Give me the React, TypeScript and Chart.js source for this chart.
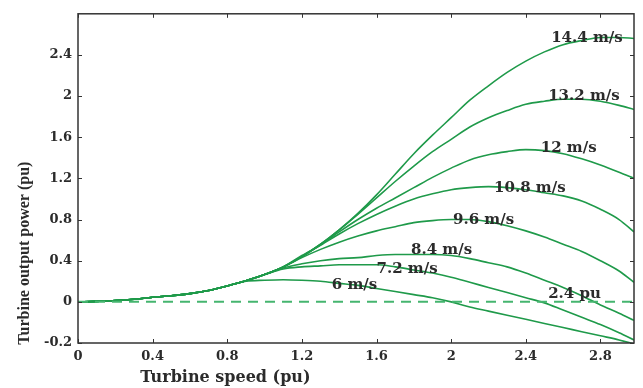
import React, { useEffect, useRef } from "react";
import { Chart, registerables } from "chart.js";
Chart.register(...registerables);

// Turbine speed (pu)
const speeds = [0, 0.1, 0.2, 0.3, 0.4, 0.5, 0.6, 0.7, 0.8, 0.9, 1.0, 1.1, 1.2, 1.3, 1.4, 1.5, 1.6, 1.7, 1.8, 1.9, 2.0, 2.1, 2.2, 2.3, 2.4, 2.5, 2.6, 2.7, 2.8, 2.9, 2.98];

// Turbine output power (pu) per wind speed
const p6 = [0, 0.005, 0.012, 0.025, 0.045, 0.06, 0.08, 0.11, 0.155, 0.2, 0.21, 0.215, 0.21, 0.2, 0.18, 0.16, 0.13, 0.1, 0.07, 0.04, 0.0, -0.05, -0.09, -0.13, -0.17, -0.21, -0.25, -0.29, -0.33, -0.37, -0.41];
const p72 = [0, 0.005, 0.012, 0.025, 0.045, 0.06, 0.08, 0.11, 0.155, 0.205, 0.265, 0.32, 0.34, 0.35, 0.36, 0.36, 0.36, 0.34, 0.31, 0.28, 0.24, 0.19, 0.14, 0.09, 0.04, -0.01, -0.08, -0.15, -0.22, -0.3, -0.37];
const p84 = [0, 0.005, 0.012, 0.025, 0.045, 0.06, 0.08, 0.11, 0.155, 0.205, 0.265, 0.33, 0.37, 0.4, 0.42, 0.43, 0.45, 0.46, 0.46, 0.46, 0.45, 0.42, 0.38, 0.34, 0.28, 0.21, 0.14, 0.06, -0.03, -0.11, -0.18];
const p96 = [0, 0.005, 0.012, 0.025, 0.045, 0.06, 0.08, 0.11, 0.155, 0.205, 0.265, 0.34, 0.43, 0.51, 0.58, 0.64, 0.69, 0.73, 0.77, 0.79, 0.8, 0.8, 0.78, 0.74, 0.69, 0.63, 0.56, 0.49, 0.4, 0.3, 0.19];
const p108 = [0, 0.005, 0.012, 0.025, 0.045, 0.06, 0.08, 0.11, 0.155, 0.205, 0.265, 0.34, 0.45, 0.55, 0.66, 0.76, 0.85, 0.93, 1.0, 1.05, 1.09, 1.11, 1.12, 1.11, 1.09, 1.06, 1.03, 0.98, 0.9, 0.8, 0.68];
const p12 = [0, 0.005, 0.012, 0.025, 0.045, 0.06, 0.08, 0.11, 0.155, 0.205, 0.265, 0.34, 0.44, 0.555, 0.68, 0.8, 0.91, 1.01, 1.11, 1.21, 1.3, 1.38, 1.43, 1.46, 1.48, 1.47, 1.44, 1.39, 1.33, 1.26, 1.2];
const p132 = [0, 0.005, 0.012, 0.025, 0.045, 0.06, 0.08, 0.11, 0.155, 0.205, 0.265, 0.34, 0.44, 0.56, 0.7, 0.85, 1.01, 1.17, 1.32, 1.46, 1.58, 1.7, 1.79, 1.86, 1.92, 1.95, 1.97, 1.97, 1.95, 1.91, 1.87];
const p144 = [0, 0.005, 0.012, 0.025, 0.045, 0.06, 0.08, 0.11, 0.155, 0.205, 0.265, 0.34, 0.44, 0.56, 0.7, 0.86, 1.04, 1.24, 1.44, 1.62, 1.79, 1.96, 2.1, 2.23, 2.34, 2.43, 2.5, 2.54, 2.57, 2.57, 2.56];

const seriesList = [p6, p72, p84, p96, p108, p12, p132, p144];
const windLabels = ["6 m/s", "7.2 m/s", "8.4 m/s", "9.6 m/s", "10.8 m/s", "12 m/s", "13.2 m/s", "14.4 m/s"];
// label anchors (data units)
const labelX = [1.36, 1.6, 1.785, 2.01, 2.23, 2.48, 2.52, 2.536];
const labelY = [0.165, 0.32, 0.5, 0.79, 1.11, 1.495, 2.0, 2.565];

const refSpeeds = [0, 2.98];
const refPower = [0, 0];
const refLabel = "2.4 pu";
const refLabelX = 2.52;
const refLabelY = 0.077;

const xTickValues = [0, 0.4, 0.8, 1.2, 1.6, 2, 2.4, 2.8];
const xTickLabels = ["0", "0.4", "0.8", "1.2", "1.6", "2", "2.4", "2.8"];
const yTickValues = [-0.4, 0, 0.4, 0.8, 1.2, 1.6, 2, 2.4];
const yTickLabels = ["-0.2", "0", "0.4", "0.8", "1.2", "1.6", "2", "2.4"];

const xTitle = "Turbine speed (pu)";
const yTitle = "Turbine output power (pu)";

const LINE = "#1f9a4a";
const DASH = "#45b56f";
const TEXT = "#2b2b2b";

const decor = {
  id: "decor",
  afterDatasetsDraw(chart: any) {
    const { ctx, chartArea: a, scales } = chart;
    const x = scales.x;
    const y = scales.y;
    ctx.save();
    // curve labels
    ctx.fillStyle = TEXT;
    ctx.font = 'bold 15px "DejaVu Serif"';
    ctx.textAlign = "left";
    ctx.textBaseline = "middle";
    windLabels.forEach((t, i) => {
      ctx.fillText(t, x.getPixelForValue(labelX[i]), y.getPixelForValue(labelY[i]));
    });
    ctx.fillText(refLabel, x.getPixelForValue(refLabelX), y.getPixelForValue(refLabelY));

    // frame
    ctx.strokeStyle = "#333";
    ctx.lineWidth = 1.5;
    ctx.strokeRect(a.left, a.top, a.right - a.left, a.bottom - a.top);
    // inward ticks
    ctx.lineWidth = 1;
    ctx.beginPath();
    xTickValues.forEach((v) => {
      const px = Math.round(x.getPixelForValue(v)) + 0.5;
      ctx.moveTo(px, a.bottom);
      ctx.lineTo(px, a.bottom - 4);
      ctx.moveTo(px, a.top);
      ctx.lineTo(px, a.top + 4);
    });
    yTickValues.forEach((v) => {
      const py = Math.round(y.getPixelForValue(v)) + 0.5;
      ctx.moveTo(a.left, py);
      ctx.lineTo(a.left + 4, py);
      ctx.moveTo(a.right, py);
      ctx.lineTo(a.right - 4, py);
    });
    ctx.stroke();

    // axis titles
    ctx.fillStyle = TEXT;
    ctx.font = 'bold 16px "DejaVu Serif"';
    ctx.textAlign = "center";
    ctx.textBaseline = "middle";
    ctx.fillText(xTitle, a.left + (a.right - a.left) * 0.265, a.bottom + 35);
    ctx.save();
    ctx.translate(a.left - 53, a.top + (a.bottom - a.top) * 0.727);
    ctx.rotate(-Math.PI / 2);
    ctx.font = 'bold 16px "Liberation Serif"';
    ctx.fillText(yTitle, 0, 0);
    ctx.restore();
    ctx.restore();
  },
};

export default function App() {
  const ref = useRef<HTMLCanvasElement | null>(null);
  useEffect(() => {
    if (!ref.current) return;
    const datasets: any[] = seriesList.map((s, k) => ({
      label: windLabels[k],
      data: speeds.map((sp, i) => ({ x: sp, y: s[i] })),
      borderColor: LINE,
      borderWidth: 1.6,
      pointRadius: 0,
      fill: false,
      cubicInterpolationMode: "monotone",
    }));
    datasets.unshift({
      label: refLabel,
      data: refSpeeds.map((sp, i) => ({ x: sp, y: refPower[i] })),
      borderColor: DASH,
      borderWidth: 2,
      borderDash: [10, 7],
      pointRadius: 0,
      fill: false,
    });
    const tickFont = { family: "DejaVu Serif", weight: "bold" as const, size: 13 };
    const chart = new Chart(ref.current, {
      type: "line",
      data: { datasets },
      plugins: [decor],
      options: {
        animation: false,
        responsive: false,
        devicePixelRatio: 1,
        layout: { padding: { left: 0, top: 10, right: 9, bottom: 0 } },
        plugins: { legend: { display: false }, tooltip: { enabled: false } },
        scales: {
          x: {
            type: "linear",
            min: 0,
            max: 2.98,
            grid: { display: false, drawTicks: false },
            border: { display: false },
            afterBuildTicks: (s: any) => {
              s.ticks = xTickValues.map((v) => ({ value: v }));
            },
            afterFit: (s: any) => {
              s.height = 45;
            },
            ticks: {
              padding: 6,
              color: TEXT,
              font: tickFont,
              maxRotation: 0,
              autoSkip: false,
              callback: (v: any) => {
                const i = xTickValues.findIndex((t) => Math.abs(t - Number(v)) < 1e-6);
                return i >= 0 ? xTickLabels[i] : "";
              },
            },
          },
          y: {
            type: "linear",
            min: -0.4,
            max: 2.8,
            grid: { display: false, drawTicks: false },
            border: { display: false },
            afterBuildTicks: (s: any) => {
              s.ticks = yTickValues.map((v) => ({ value: v }));
            },
            afterFit: (s: any) => {
              s.width = 78;
            },
            ticks: {
              padding: 6,
              color: TEXT,
              font: tickFont,
              autoSkip: false,
              callback: (v: any) => {
                const i = yTickValues.findIndex((t) => Math.abs(t - Number(v)) < 1e-6);
                return i >= 0 ? yTickLabels[i] : "";
              },
            },
          },
        },
      },
    });
    return () => chart.destroy();
  }, []);
  return (
    <div style={{ position: "absolute", left: 0, top: 0, width: 643, height: 388, background: "#fff" }}>
      <canvas ref={ref} width={643} height={388} style={{ display: "block" }} />
    </div>
  );
}
